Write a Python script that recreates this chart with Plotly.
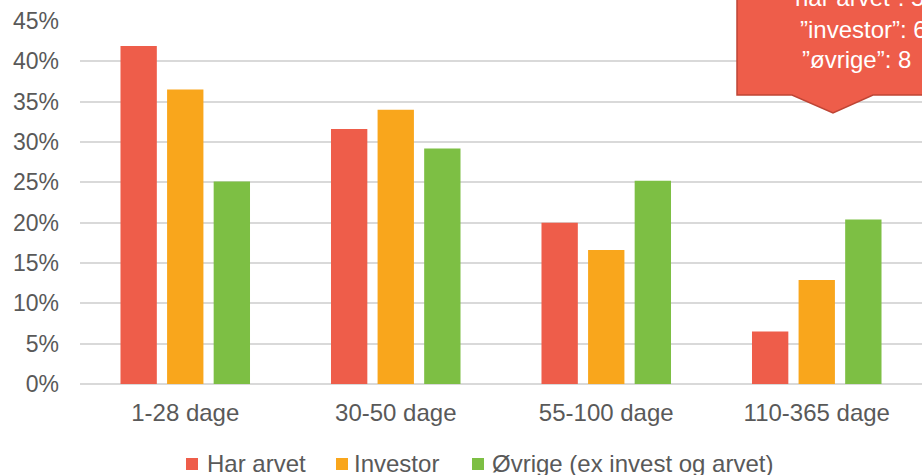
import plotly.graph_objects as go

categories = ["1-28 dage", "30-50 dage", "55-100 dage", "110-365 dage"]
har_arvet = [0.419, 0.316, 0.200, 0.065]
investor = [0.365, 0.340, 0.166, 0.129]
ovrige = [0.251, 0.292, 0.252, 0.204]
series_names = ["Har arvet", "Investor", "Øvrige (ex invest og arvet)"]
colors = ["#EE5D4A", "#F9A61C", "#7DBF44"]
tick_vals = [0, 0.05, 0.10, 0.15, 0.20, 0.25, 0.30, 0.35, 0.40, 0.45]
tick_text = ["0%", "5%", "10%", "15%", "20%", "25%", "30%", "35%", "40%", "45%"]
callout_lines = ["”har arvet”: 5", "”investor”: 6", "”øvrige”: 8"]

W, H = 922, 475
L, R, T, B = 80, 0, 21, 91
PW, PH = W - L - R, H - T - B
FONT = "Liberation Sans, Arial, sans-serif"
GRAY = "#595959"


def px(x):
    return (x - L) / PW


def py(y):
    return (H - B - y) / PH


fig = go.Figure()
for name, vals, col in zip(series_names, [har_arvet, investor, ovrige], colors):
    fig.add_trace(go.Bar(x=categories, y=vals, name=name, showlegend=False,
                         marker=dict(color=col, line=dict(width=0))))

# callout shape (pixel -> paper)
pts = [(737, -20), (737, 95), (792, 95), (833, 113), (873, 95), (950, 95), (950, -20)]
path = "M " + " L ".join(f"{px(x):.5f},{py(y):.5f}" for x, y in pts) + " Z"
fig.add_shape(type="path", path=path, xref="paper", yref="paper",
              fillcolor="#EE5D4A", line=dict(color="#BE4535", width=1.5), layer="above")

for txt, x0, base in zip(callout_lines, [785, 798, 800], [6, 37, 68]):
    fig.add_annotation(text=txt, xref="paper", yref="paper", x=px(x0), y=py(base - 8),
                       xanchor="left", yanchor="middle", showarrow=False,
                       font=dict(family=FONT, size=24, color="white"))

# custom legend
for name, col, sq_x, tx_x in zip(series_names, colors, [186, 336, 472], [205, 352, 490]):
    fig.add_shape(type="rect", xref="paper", yref="paper",
                  x0=px(sq_x), x1=px(sq_x + 12), y0=py(470), y1=py(458),
                  fillcolor=col, line=dict(width=0))
    fig.add_annotation(text=name, xref="paper", yref="paper", x=px(tx_x), y=py(463),
                       xanchor="left", yanchor="middle", showarrow=False,
                       font=dict(family=FONT, size=24, color=GRAY))

fig.update_layout(
    width=W, height=H,
    margin=dict(l=L, r=R, t=T, b=B, autoexpand=False),
    paper_bgcolor="white", plot_bgcolor="white",
    barmode="group", bargap=0.336, bargroupgap=0.22,
    font=dict(family=FONT, size=22, color=GRAY),
    showlegend=False,
    xaxis=dict(range=[-0.5, 3.5], showgrid=False, showline=False, ticks="",
               ticklabelstandoff=12, tickfont=dict(size=24, color=GRAY)),
    yaxis=dict(range=[0, 0.45], tickvals=tick_vals, ticktext=tick_text,
               showgrid=True, gridcolor="#D9D9D9", gridwidth=1.5,
               zeroline=True, zerolinecolor="#D9D9D9", zerolinewidth=1.5,
               showline=False, ticks="", ticklabelstandoff=20,
               tickfont=dict(size=23, color=GRAY)),
)

fig.write_html("out.html", config={"displayModeBar": False},
               post_script="document.body.style.margin='0';document.body.style.overflow='hidden';")
